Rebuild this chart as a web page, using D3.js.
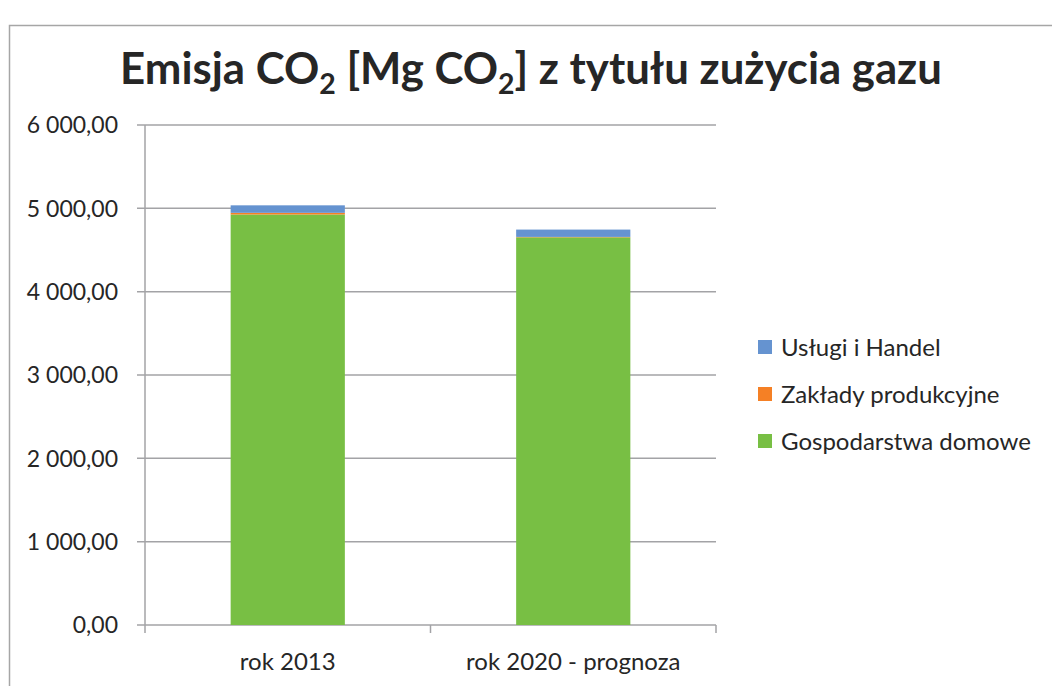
<!DOCTYPE html>
<html>
<head>
<meta charset="utf-8">
<script src="https://cdn.jsdelivr.net/npm/d3@7"></script>
<style>
  body { margin: 0; background: #fff; }
  text { font-family: Lato, "Open Sans", sans-serif; fill: #262626; }
</style>
</head>
<body>
<svg id="chart" width="1052" height="686"></svg>
<script>
// data
const categories = ['rok 2013', 'rok 2020 - prognoza']
const seriesNames = ['Gospodarstwa domowe', 'Zakłady produkcyjne', 'Usługi i Handel']
const gospodarstwa = [4926, 4652]
const zaklady = [20, 5]
const uslugi = [90, 88]
const yTicks = [0, 1000, 2000, 3000, 4000, 5000, 6000]
const colors = ['#78bf44', '#f58025', '#6593d0']

const svg = d3.select('#chart')
const margin = { left: 145, right: 716, top: 125, bottom: 625 }

// outer border of the chart area
svg.append('rect')
  .attr('x', 9.5).attr('y', 25.5)
  .attr('width', 1100).attr('height', 700)
  .attr('fill', 'none')
  .attr('stroke', '#a6a6a6')
  .attr('stroke-width', 1.5)

const rows = categories.map((c, i) => ({
  cat: c,
  'Gospodarstwa domowe': gospodarstwa[i],
  'Zakłady produkcyjne': zaklady[i],
  'Usługi i Handel': uslugi[i]
}))
const stacked = d3.stack().keys(seriesNames)(rows)

const x = d3.scaleBand()
  .domain(categories)
  .range([margin.left, margin.right])
  .paddingInner(0.6)
  .paddingOuter(0.3)

const y = d3.scaleLinear()
  .domain([0, 6000])
  .range([margin.bottom, margin.top])

const fmt = v => d3.format(',.2f')(v).replace(/,/g, ' ').replace('.', ',')

// gridlines
svg.append('g')
  .selectAll('line')
  .data(yTicks)
  .enter()
  .append('line')
  .attr('x1', margin.left - 8)
  .attr('x2', margin.right)
  .attr('y1', d => y(d))
  .attr('y2', d => y(d))
  .attr('stroke', '#a3a3a6')
  .attr('stroke-width', 1.5)

// y axis line
svg.append('line')
  .attr('x1', margin.left).attr('x2', margin.left)
  .attr('y1', margin.top).attr('y2', margin.bottom)
  .attr('stroke', '#a3a3a6')
  .attr('stroke-width', 1.5)

// x axis ticks
const xEdges = [margin.left, (margin.left + margin.right) / 2, margin.right]
svg.append('g')
  .selectAll('line')
  .data(xEdges)
  .enter()
  .append('line')
  .attr('x1', d => d).attr('x2', d => d)
  .attr('y1', margin.bottom).attr('y2', margin.bottom + 8)
  .attr('stroke', '#a3a3a6')
  .attr('stroke-width', 1.5)

// y tick labels
svg.append('g')
  .selectAll('text')
  .data(yTicks)
  .enter()
  .append('text')
  .attr('x', 118)
  .attr('y', d => y(d))
  .attr('dy', '0.36em')
  .attr('text-anchor', 'end')
  .style('font-size', '23px')
  .text(d => fmt(d))

// x labels
svg.append('g')
  .selectAll('text')
  .data(categories)
  .enter()
  .append('text')
  .attr('x', d => x(d) + x.bandwidth() / 2)
  .attr('y', 670)
  .attr('text-anchor', 'middle')
  .style('font-size', '24px')
  .text(d => d)

// bars
svg.append('g')
  .selectAll('g')
  .data(stacked)
  .enter()
  .append('g')
  .attr('fill', (d, i) => colors[i])
  .selectAll('rect')
  .data(d => d)
  .enter()
  .append('rect')
  .attr('x', d => x(d.data.cat))
  .attr('width', x.bandwidth())
  .attr('y', d => y(d[1]))
  .attr('height', d => y(d[0]) - y(d[1]))

// title
const title = svg.append('text')
  .attr('x', 531)
  .attr('y', 84)
  .attr('text-anchor', 'middle')
  .style('font-weight', 'bold')
  .style('font-size', '44px')
const parts = [['Emisja CO', false], ['2', true], [' [Mg CO', false], ['2', true], ['] z tytułu zużycia gazu', false]]
parts.forEach(([t, sub]) => {
  const ts = title.append('tspan').text(t)
  if (sub) ts.attr('dy', 10).style('font-size', '0.65em')
  else ts.attr('dy', title.selectAll('tspan').size() > 1 ? -10 : 0)
})
// fit title to reference width
const tw = title.node().getBBox().width
title.style('font-size', (44 * 822 / tw) + 'px')

// legend
const legendOrder = [2, 1, 0]
const legend = svg.append('g')
  .selectAll('g')
  .data(legendOrder)
  .enter()
  .append('g')
  .attr('transform', (d, i) => `translate(758, ${347 + i * 47})`)
legend.append('rect')
  .attr('x', 0).attr('y', -7)
  .attr('width', 14).attr('height', 14)
  .attr('fill', d => colors[d])
legend.append('text')
  .attr('x', 23)
  .attr('dy', '0.36em')
  .style('font-size', '24px')
  .text(d => seriesNames[d])
</script>
</body>
</html>
